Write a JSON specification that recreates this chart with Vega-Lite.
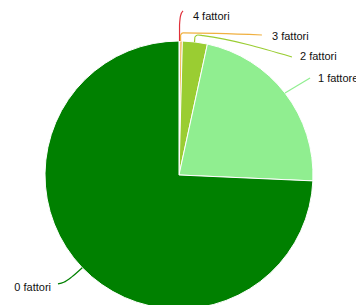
{
  "$schema": "https://vega.github.io/schema/vega-lite/v6.json",
  "width": 356,
  "height": 305,
  "padding": 0,
  "autosize": {"type": "none"},
  "config": {"view": {"stroke": null}},
  "datasets": {
    "slices": [
      {"label": "4 fattori", "n": 1, "o": 1},
      {"label": "3 fattori", "n": 3, "o": 2},
      {"label": "2 fattori", "n": 30, "o": 3},
      {"label": "1 fattore", "n": 223, "o": 4},
      {"label": "0 fattori", "n": 743, "o": 5}
    ],
    "leaders": [
      {"label": "4 fattori", "s": 1, "px": 0.004, "py": 1.0},
      {"label": "4 fattori", "s": 2, "px": 0.004, "py": 1.12},
      {"label": "4 fattori", "s": 3, "px": 0.012, "py": 1.19},
      {"label": "4 fattori", "s": 4, "px": 0.03, "py": 1.225},
      {"label": "3 fattori", "s": 1, "px": 0.012, "py": 1.0},
      {"label": "3 fattori", "s": 2, "px": 0.012, "py": 1.045},
      {"label": "3 fattori", "s": 3, "px": 0.03, "py": 1.06},
      {"label": "3 fattori", "s": 4, "px": 0.619, "py": 1.045},
      {"label": "2 fattori", "s": 1, "px": 0.116, "py": 0.993},
      {"label": "2 fattori", "s": 2, "px": 0.119, "py": 1.03},
      {"label": "2 fattori", "s": 3, "px": 0.14, "py": 1.045},
      {"label": "2 fattori", "s": 4, "px": 0.18, "py": 1.04},
      {"label": "2 fattori", "s": 5, "px": 0.843, "py": 0.881},
      {"label": "1 fattore", "s": 1, "px": 0.791, "py": 0.612},
      {"label": "1 fattore", "s": 2, "px": 0.978, "py": 0.724},
      {"label": "0 fattori", "s": 1, "px": -0.722, "py": -0.692},
      {"label": "0 fattori", "s": 2, "px": -0.8, "py": -0.76},
      {"label": "0 fattori", "s": 3, "px": -0.86, "py": -0.8},
      {"label": "0 fattori", "s": 4, "px": -0.903, "py": -0.813}
    ],
    "texts": [
      {"label": "4 fattori", "tx": 0.104, "ty": 1.179, "side": "right"},
      {"label": "3 fattori", "tx": 0.694, "ty": 1.03, "side": "right"},
      {"label": "2 fattori", "tx": 0.903, "ty": 0.881, "side": "right"},
      {"label": "1 fattore", "tx": 1.037, "ty": 0.716, "side": "right"},
      {"label": "0 fattori", "tx": -0.955, "ty": -0.843, "side": "left"}
    ]
  },
  "layer": [
    {
      "data": {"name": "slices"},
      "mark": {"type": "arc", "radius": 134, "stroke": "white", "strokeWidth": 1},
      "encoding": {
        "x": {"datum": 0, "type": "quantitative", "scale": {"domain": [-1.3358, 1.3209], "nice": false, "zero": false}, "axis": null},
        "y": {"datum": 0, "type": "quantitative", "scale": {"domain": [-0.97, 1.306], "nice": false, "zero": false}, "axis": null},
        "theta": {"field": "n", "type": "quantitative", "stack": true},
        "order": {"field": "o", "type": "quantitative"},
        "color": {
          "field": "label", "type": "nominal", "legend": null,
          "scale": {"domain": ["4 fattori", "3 fattori", "2 fattori", "1 fattore", "0 fattori"],
                    "range": ["#e0303a", "#f0b040", "#9acd32", "#90ee90", "#008000"]}
        }
      }
    },
    {
      "data": {"name": "leaders"},
      "mark": {"type": "line", "strokeWidth": 1.2, "interpolate": "monotone"},
      "encoding": {
        "x": {"field": "px", "type": "quantitative"},
        "y": {"field": "py", "type": "quantitative"},
        "order": {"field": "s", "type": "quantitative"},
        "detail": {"field": "label"},
        "color": {"field": "label", "type": "nominal", "legend": null}
      }
    },
    {
      "data": {"name": "texts"},
      "transform": [{"filter": "datum.side === 'right'"}],
      "mark": {"type": "text", "align": "left", "baseline": "middle", "font": "Liberation Sans", "fontSize": 11, "color": "#111111"},
      "encoding": {
        "x": {"field": "tx", "type": "quantitative"},
        "y": {"field": "ty", "type": "quantitative"},
        "text": {"field": "label"}
      }
    },
    {
      "data": {"name": "texts"},
      "transform": [{"filter": "datum.side === 'left'"}],
      "mark": {"type": "text", "align": "right", "baseline": "middle", "font": "Liberation Sans", "fontSize": 11, "color": "#111111"},
      "encoding": {
        "x": {"field": "tx", "type": "quantitative"},
        "y": {"field": "ty", "type": "quantitative"},
        "text": {"field": "label"}
      }
    }
  ]
}
